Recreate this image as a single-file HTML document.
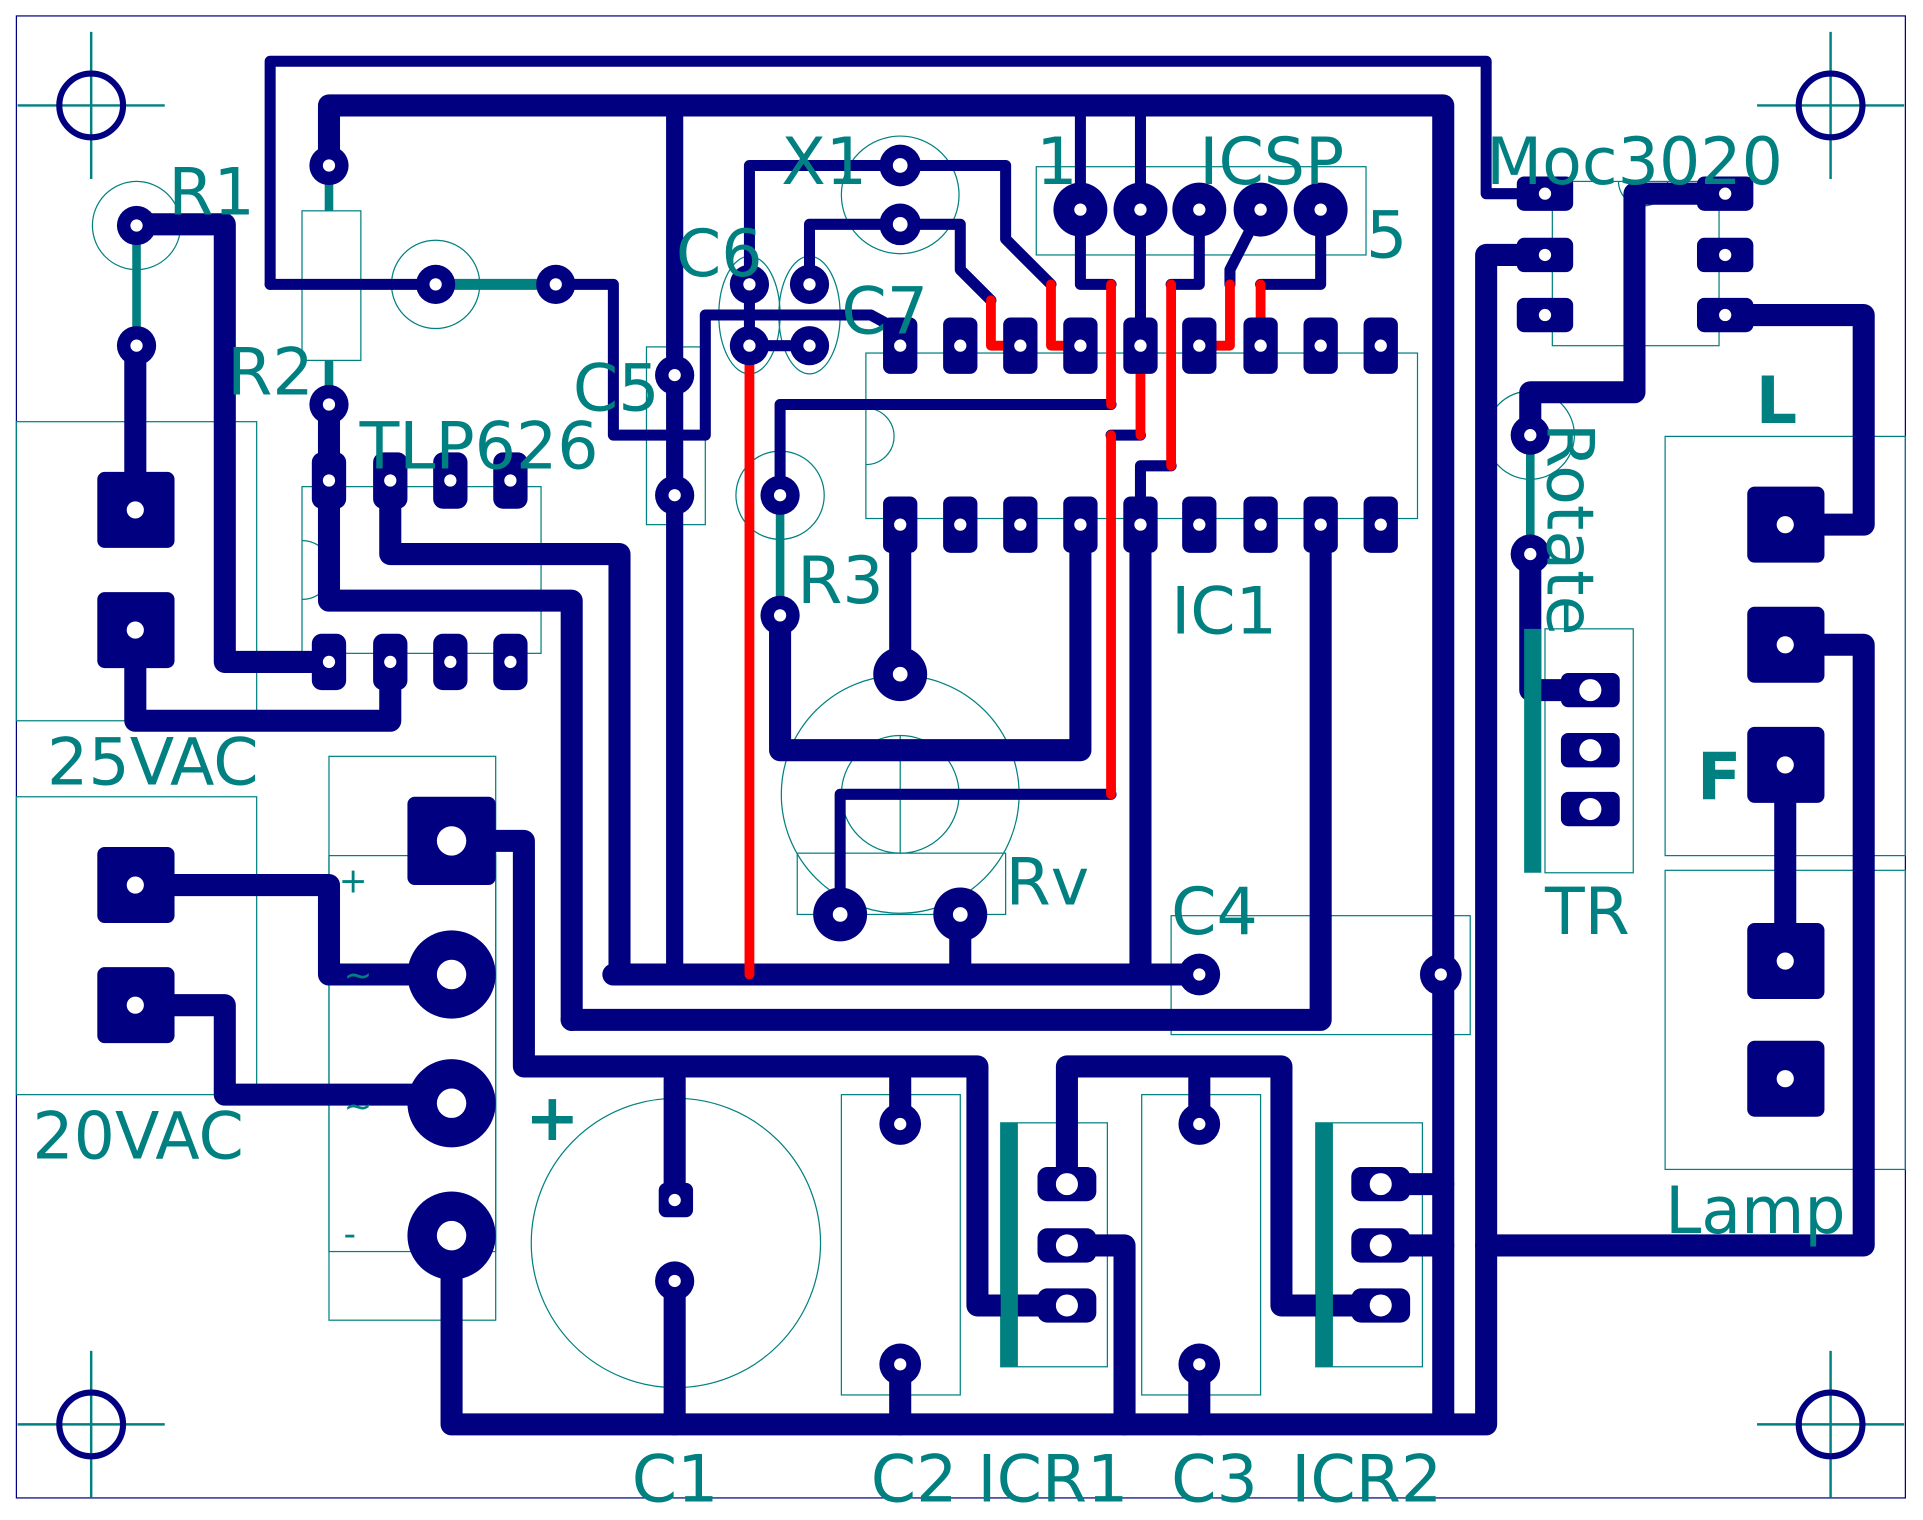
<!DOCTYPE html>
<html><head><meta charset="utf-8"><style>
html,body{margin:0;padding:0;background:#fff;}
svg{display:block;}
text{font-family:"DejaVu Sans","Liberation Sans",sans-serif;fill:#008080;}
</style></head><body>
<svg width="1923" height="1520" viewBox="0 0 1568 1240" xmlns="http://www.w3.org/2000/svg">
<rect x="0" y="0" width="1568" height="1240" fill="#fff"/>
<rect x="13" y="13" width="1541" height="1209" fill="none" stroke="#000080" stroke-width="1"/>
<g stroke="#008080" stroke-width="2">
<line x1="14" y1="86" x2="134" y2="86"/><line x1="74" y1="26" x2="74" y2="146"/>
<line x1="1433" y1="86" x2="1553" y2="86"/><line x1="1493" y1="26" x2="1493" y2="146"/>
<line x1="14" y1="1162" x2="134" y2="1162"/><line x1="74" y1="1102" x2="74" y2="1222"/>
<line x1="1433" y1="1162" x2="1553" y2="1162"/><line x1="1493" y1="1102" x2="1493" y2="1222"/>
</g>
<g fill="none" stroke="#000080" stroke-width="5">
<circle cx="74" cy="86" r="26"/><circle cx="1493" cy="86" r="26"/><circle cx="74" cy="1162" r="26"/><circle cx="1493" cy="1162" r="26"/>
</g>
<g fill="none" stroke="#008080" stroke-width="1">
<circle cx="111" cy="184" r="36"/>
<rect x="246" y="172" width="48" height="122"/>
<circle cx="355" cy="232" r="36"/>
<rect x="13" y="344" width="196" height="244"/>
<rect x="246" y="397" width="195" height="136"/>
<path d="M246,441 A22,22 0 0 1 246,489"/>
<rect x="13" y="650" width="196" height="243"/>
<rect x="527" y="283" width="48" height="145"/>
<ellipse cx="611" cy="257" rx="25" ry="48"/>
<ellipse cx="660" cy="257" rx="25" ry="48"/>
<circle cx="734" cy="159" r="48"/>
<rect x="845" y="136" width="269" height="72"/>
<rect x="706" y="288" width="450" height="135"/>
<path d="M706,333 A22,22 0 0 1 706,379"/>
<circle cx="636" cy="404" r="36"/>
<circle cx="734" cy="648" r="97"/>
<circle cx="734" cy="648" r="48"/>
<line x1="734" y1="600" x2="734" y2="696"/>
<rect x="650" y="696" width="170" height="50"/>
<rect x="955" y="747" width="244" height="97"/>
<rect x="268" y="617" width="136" height="460"/>
<rect x="268" y="698" width="136" height="323"/>
<circle cx="551" cy="1014" r="118"/>
<rect x="686" y="893" width="97" height="245"/>
<rect x="816" y="916" width="87" height="199"/>
<rect x="931" y="893" width="97" height="245"/>
<rect x="1073" y="916" width="87" height="199"/>
<rect x="1266" y="148" width="136" height="134"/>
<path d="M1320,148 A20,20 0 0 0 1360,148"/>
<circle cx="1248" cy="355" r="36"/>
<rect x="1260" y="513" width="72" height="199"/>
<rect x="1358" y="356" width="196" height="342"/>
<rect x="1358" y="710" width="196" height="244"/>
</g>
<g fill="none" stroke="#000080" stroke-linejoin="round" stroke-linecap="round">
<g stroke-width="18">
<polyline points="268,135 268,86 1177,86 1177,1160"/>
<polyline points="500,795 978,795"/>
<polyline points="466,832 1077,832 1077,428"/>
<polyline points="466,832 466,490 268,490 268,330"/>
<polyline points="318,392 318,452 505,452 505,795"/>
<polyline points="110,183 183,183 183,540 268,540"/>
<polyline points="110,282 110,416"/>
<polyline points="110,514 110,588 318,588 318,540"/>
<polyline points="110,722 268,722 268,795 368,795"/>
<polyline points="110,820 183,820 183,893 368,893"/>
<polyline points="368,686 427,686 427,870 797,870 797,1065 870,1065"/>
<polyline points="368,1008 368,1162 1212,1162 1212,208 1260,208"/>
<polyline points="870,966 870,870 1045,870 1045,1065 1126,1065"/>
<polyline points="870,1016 917,1016 917,1162"/>
<polyline points="1126,966 1177,966"/>
<polyline points="1126,1016 1177,1016"/>
<polyline points="1212,1016 1520,1016 1520,526 1456,526"/>
<polyline points="1456,428 1520,428 1520,257 1407,257"/>
<polyline points="1407,158 1333,158 1333,320 1248,320 1248,355"/>
<polyline points="1248,452 1248,563 1296,563"/>
<polyline points="1456,624 1456,784"/>
<polyline points="734,428 734,550"/>
<polyline points="881,428 881,612 636,612 636,502"/>
<polyline points="930,428 930,795"/>
<polyline points="783,746 783,795"/>
<polyline points="550,880 550,978"/>
<polyline points="550,1045 550,1162"/>
<polyline points="734,880 734,917"/><polyline points="734,1113 734,1162"/>
<polyline points="978,880 978,917"/><polyline points="978,1113 978,1162"/>
</g>
<g stroke-width="14"><polyline points="550,86 550,795"/></g>
<g stroke-width="9">
<polyline points="220,232 220,50 1212,50 1212,158 1260,158"/>
<polyline points="220,232 355,232"/>
<polyline points="453,232 500,232 500,355 575,355 575,257 710,257 734,270"/>
<polyline points="611,282 660,282"/>
<polyline points="611,282 611,135 820,135 820,195 857,232"/>
<polyline points="660,232 660,183 783,183 783,220 808,245"/>
<polyline points="636,404 636,330 906,330"/>
<polyline points="685,746 685,648 906,648"/>
<polyline points="881,86 881,232 906,232"/>
<polyline points="930,86 930,282"/>
<polyline points="978,171 978,232 955,232"/>
<polyline points="1028,171 1003,220 1003,232"/>
<polyline points="1077,171 1077,232 1028,232"/>
<polyline points="930,428 930,380 955,380"/>
<polyline points="930,355 906,355"/>
</g>
</g>
<g fill="none" stroke="#ff0000" stroke-width="8" stroke-linejoin="round" stroke-linecap="round">
<polyline points="611,295 611,795"/>
<polyline points="808,245 808,282 822,282"/>
<polyline points="857,232 857,282 871,282"/>
<polyline points="906,232 906,330"/>
<polyline points="930,295 930,355"/>
<polyline points="906,355 906,648"/>
<polyline points="955,232 955,380"/>
<polyline points="1003,232 1003,282 990,282"/>
<polyline points="1028,232 1028,270"/>
</g>
<g stroke="#008080" stroke-linecap="butt">
<line x1="111" y1="184" x2="111" y2="282" stroke-width="7"/>
<line x1="268" y1="135" x2="268" y2="172" stroke-width="7"/>
<line x1="268" y1="294" x2="268" y2="330" stroke-width="7"/>
<line x1="355" y1="232" x2="453" y2="232" stroke-width="9"/>
<line x1="636" y1="404" x2="636" y2="502" stroke-width="7"/>
<line x1="1248" y1="355" x2="1248" y2="452" stroke-width="7"/>
<line x1="1250" y1="513" x2="1250" y2="712" stroke-width="14"/>
<line x1="823" y1="916" x2="823" y2="1115" stroke-width="14"/>
<line x1="1080" y1="916" x2="1080" y2="1115" stroke-width="14"/>
</g>
<g fill="#000080">
<g id="ic">
<rect x="720" y="259" width="28" height="46" rx="6"/><rect x="769" y="259" width="28" height="46" rx="6"/><rect x="818" y="259" width="28" height="46" rx="6"/><rect x="867" y="259" width="28" height="46" rx="6"/><rect x="916" y="259" width="28" height="46" rx="6"/><rect x="964" y="259" width="28" height="46" rx="6"/><rect x="1014" y="259" width="28" height="46" rx="6"/><rect x="1063" y="259" width="28" height="46" rx="6"/><rect x="1112" y="259" width="28" height="46" rx="6"/>
</g>
<use href="#ic" y="146"/>
<rect x="254" y="369" width="28" height="46" rx="8"/><rect x="304" y="369" width="28" height="46" rx="8"/><rect x="353" y="369" width="28" height="46" rx="8"/><rect x="402" y="369" width="28" height="46" rx="8"/>
<rect x="254" y="517" width="28" height="46" rx="8"/><rect x="304" y="517" width="28" height="46" rx="8"/><rect x="353" y="517" width="28" height="46" rx="8"/><rect x="402" y="517" width="28" height="46" rx="8"/>
<rect x="1237" y="144" width="46" height="28" rx="6"/><rect x="1237" y="194" width="46" height="28" rx="6"/><rect x="1237" y="243" width="46" height="28" rx="6"/>
<rect x="1384" y="144" width="46" height="28" rx="6"/><rect x="1384" y="194" width="46" height="28" rx="6"/><rect x="1384" y="243" width="46" height="28" rx="6"/>
<rect x="1273" y="549" width="48" height="28" rx="6"/><rect x="1273" y="598" width="48" height="28" rx="6"/><rect x="1273" y="646" width="48" height="28" rx="6"/>
<rect x="846" y="952" width="48" height="28" rx="8"/><rect x="846" y="1002" width="48" height="28" rx="8"/><rect x="846" y="1051" width="48" height="28" rx="8"/>
<rect x="1102" y="952" width="48" height="28" rx="8"/><rect x="1102" y="1002" width="48" height="28" rx="8"/><rect x="1102" y="1051" width="48" height="28" rx="8"/>
<rect x="79" y="385" width="63" height="62" rx="6"/><rect x="79" y="483" width="63" height="62" rx="6"/>
<rect x="79" y="691" width="63" height="62" rx="6"/><rect x="79" y="789" width="63" height="62" rx="6"/>
<rect x="332" y="650" width="72" height="72" rx="6"/>
<rect x="1425" y="397" width="63" height="62" rx="6"/><rect x="1425" y="495" width="63" height="62" rx="6"/><rect x="1425" y="593" width="63" height="62" rx="6"/><rect x="1425" y="753" width="63" height="62" rx="6"/><rect x="1425" y="849" width="63" height="62" rx="6"/>
<rect x="537" y="965" width="28" height="28" rx="6"/>
<circle cx="368" cy="795" r="36"/><circle cx="368" cy="900" r="36"/><circle cx="368" cy="1008" r="36"/>
<circle cx="881" cy="171" r="22"/><circle cx="930" cy="171" r="22"/><circle cx="978" cy="171" r="22"/><circle cx="1028" cy="171" r="22"/><circle cx="1077" cy="171" r="22"/>
<circle cx="268" cy="135" r="16"/><circle cx="268" cy="330" r="16"/><circle cx="111" cy="184" r="16"/><circle cx="111" cy="282" r="16"/>
<circle cx="355" cy="232" r="16"/><circle cx="453" cy="232" r="16"/>
<circle cx="550" cy="306" r="16"/><circle cx="550" cy="404" r="16"/>
<circle cx="611" cy="232" r="16"/><circle cx="660" cy="232" r="16"/><circle cx="611" cy="282" r="16"/><circle cx="660" cy="282" r="16"/>
<circle cx="734" cy="135" r="17"/><circle cx="734" cy="183" r="17"/>
<circle cx="636" cy="404" r="16"/><circle cx="636" cy="502" r="16"/>
<circle cx="734" cy="550" r="22"/><circle cx="685" cy="746" r="22"/><circle cx="783" cy="746" r="22"/>
<circle cx="978" cy="795" r="17"/><circle cx="1175" cy="795" r="17"/>
<circle cx="550" cy="1045" r="16"/>
<circle cx="734" cy="917" r="17"/><circle cx="734" cy="1113" r="17"/><circle cx="978" cy="917" r="17"/><circle cx="978" cy="1113" r="17"/>
<circle cx="1248" cy="355" r="16"/><circle cx="1248" cy="452" r="16"/>
</g>
<g fill="#fff">
<circle cx="734" cy="282" r="5"/><circle cx="783" cy="282" r="5"/><circle cx="832" cy="282" r="5"/><circle cx="881" cy="282" r="5"/><circle cx="930" cy="282" r="5"/><circle cx="978" cy="282" r="5"/><circle cx="1028" cy="282" r="5"/><circle cx="1077" cy="282" r="5"/><circle cx="1126" cy="282" r="5"/>
<circle cx="734" cy="428" r="5"/><circle cx="783" cy="428" r="5"/><circle cx="832" cy="428" r="5"/><circle cx="881" cy="428" r="5"/><circle cx="930" cy="428" r="5"/><circle cx="978" cy="428" r="5"/><circle cx="1028" cy="428" r="5"/><circle cx="1077" cy="428" r="5"/><circle cx="1126" cy="428" r="5"/>
<circle cx="268" cy="392" r="5"/><circle cx="318" cy="392" r="5"/><circle cx="367" cy="392" r="5"/><circle cx="416" cy="392" r="5"/>
<circle cx="268" cy="540" r="5"/><circle cx="318" cy="540" r="5"/><circle cx="367" cy="540" r="5"/><circle cx="416" cy="540" r="5"/>
<circle cx="1260" cy="158" r="5"/><circle cx="1260" cy="208" r="5"/><circle cx="1260" cy="257" r="5"/>
<circle cx="1407" cy="158" r="5"/><circle cx="1407" cy="208" r="5"/><circle cx="1407" cy="257" r="5"/>
<circle cx="1297" cy="563" r="9"/><circle cx="1297" cy="612" r="9"/><circle cx="1297" cy="660" r="9"/>
<circle cx="870" cy="966" r="9"/><circle cx="870" cy="1016" r="9"/><circle cx="870" cy="1065" r="9"/>
<circle cx="1126" cy="966" r="9"/><circle cx="1126" cy="1016" r="9"/><circle cx="1126" cy="1065" r="9"/>
<circle cx="110" cy="416" r="7"/><circle cx="110" cy="514" r="7"/><circle cx="110" cy="722" r="7"/><circle cx="110" cy="820" r="7"/>
<circle cx="368" cy="686" r="12"/><circle cx="368" cy="795" r="12"/><circle cx="368" cy="900" r="12"/><circle cx="368" cy="1008" r="12"/>
<circle cx="1456" cy="428" r="7"/><circle cx="1456" cy="526" r="7"/><circle cx="1456" cy="624" r="7"/><circle cx="1456" cy="784" r="7"/><circle cx="1456" cy="880" r="7"/>
<circle cx="881" cy="171" r="5"/><circle cx="930" cy="171" r="5"/><circle cx="978" cy="171" r="5"/><circle cx="1028" cy="171" r="5"/><circle cx="1077" cy="171" r="5"/>
<circle cx="268" cy="135" r="5"/><circle cx="268" cy="330" r="5"/><circle cx="111" cy="184" r="5"/><circle cx="111" cy="282" r="5"/>
<circle cx="355" cy="232" r="5"/><circle cx="453" cy="232" r="5"/><circle cx="550" cy="306" r="5"/><circle cx="550" cy="404" r="5"/>
<circle cx="611" cy="232" r="5"/><circle cx="660" cy="232" r="5"/><circle cx="611" cy="282" r="5"/><circle cx="660" cy="282" r="5"/>
<circle cx="734" cy="135" r="6"/><circle cx="734" cy="183" r="6"/><circle cx="636" cy="404" r="5"/><circle cx="636" cy="502" r="5"/>
<circle cx="734" cy="550" r="6"/><circle cx="685" cy="746" r="6"/><circle cx="783" cy="746" r="6"/>
<circle cx="978" cy="795" r="5"/><circle cx="1175" cy="795" r="5"/><circle cx="550" cy="979" r="5"/><circle cx="550" cy="1045" r="5"/>
<circle cx="734" cy="917" r="5"/><circle cx="734" cy="1113" r="5"/><circle cx="978" cy="917" r="5"/><circle cx="978" cy="1113" r="5"/>
<circle cx="1248" cy="355" r="5"/><circle cx="1248" cy="452" r="5"/>
</g>
<g font-size="53">
<text x="137" y="175">R1</text>
<text x="185" y="322">R2</text>
<text x="293" y="382">TLP626</text>
<text x="38" y="640">25VAC</text>
<text x="26" y="945">20VAC</text>
<text x="467" y="335">C5</text>
<text x="551" y="225">C6</text>
<text x="686" y="272">C7</text>
<text x="637" y="150">X1</text>
<text x="845" y="150">1</text>
<text x="978" y="150">ICSP</text>
<text x="1114" y="210">5</text>
<text x="1212" y="150">Moc3020</text>
<text x="650" y="492">R3</text>
<text x="955" y="517">IC1</text>
<text x="820" y="738">Rv</text>
<text x="955" y="762">C4</text>
<text x="1260" y="762">TR</text>
<text x="1358" y="1006">Lamp</text>
<text x="515" y="1225">C1</text>
<text x="710" y="1225">C2</text>
<text x="797" y="1225">ICR1</text>
<text x="955" y="1225">C3</text>
<text x="1053" y="1225">ICR2</text>
<text x="1432" y="345" font-weight="bold">L</text>
<text x="1384" y="652" font-weight="bold">F</text>
<text x="428" y="930" font-weight="bold">+</text>
<text transform="translate(1262,345) rotate(90)">Rotate</text>
</g>
<g font-size="28">
<text x="276" y="728">+</text>
<text x="280" y="805">~</text>
<text x="280" y="912">~</text>
<text x="280" y="1016">-</text>
</g>
</svg>
</body></html>
